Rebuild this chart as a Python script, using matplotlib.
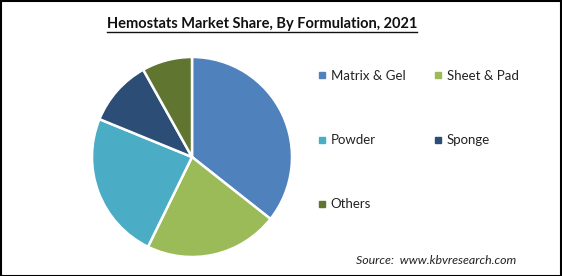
import matplotlib
matplotlib.use("Agg")
import matplotlib.pyplot as plt
from matplotlib.lines import Line2D

categories = ["Matrix & Gel", "Sheet & Pad", "Powder", "Sponge", "Others"]
shares = [35.6, 21.6, 23.9, 10.7, 8.1]
colors = ["#4F81BD", "#9BBB59", "#4BACC6", "#2C4D75", "#5F7530"]
title = "Hemostats Market Share, By Formulation, 2021"
source = "Source:  www.kbvresearch.com"

W, H = 562, 276
fig = plt.figure(figsize=(W / 100, H / 100), dpi=100)
fig.patch.set_facecolor("white")

# border
border = plt.Rectangle((0.5 / W, 0.5 / H), 1 - 1.5 / W, 1 - 1.5 / H, transform=fig.transFigure,
                       fill=False, edgecolor="black", linewidth=1.5)
fig.add_artist(border)

cx, cy, r = 192, 157, 100
ax = fig.add_axes([(cx - r) / W, (H - cy - r) / H, 2 * r / W, 2 * r / H])
wedges, _ = ax.pie(shares, colors=colors, startangle=90, counterclock=False,
                   wedgeprops=dict(edgecolor="white", linewidth=1.8), radius=1)
ax.set_xlim(-1, 1)
ax.set_ylim(-1, 1)
ax.set_aspect("equal")
ax.axis("off")

font = "Lato"
t = fig.text(262 / W, 1 - 24 / H, title, ha="center", va="center", fontsize=10.5,
             fontweight="bold", family=font, color="#111111")
fig.canvas.draw()
bb = t.get_window_extent()
uy = bb.y0 - 1
fig.add_artist(Line2D([bb.x0 / W, bb.x1 / W], [uy / H, uy / H], transform=fig.transFigure,
                      color="#111111", linewidth=1.0))

handles = [Line2D([0], [0], marker="s", linestyle="none", markersize=4.5,
                  markerfacecolor=c, markeredgecolor=c) for c in colors]
# row-major order for a 2-column legend
order = [0, 2, 4, 1, 3]
leg = fig.legend([handles[i] for i in order], [categories[i] for i in order],
                 loc="upper left", bbox_to_anchor=(318 / W, 1 - 70 / H),
                 ncol=2, frameon=False, prop=dict(family=font, size=9.5),
                 handlelength=0.6, handletextpad=0.35, labelspacing=3.95,
                 columnspacing=2.2, borderaxespad=0, borderpad=0)
for txt in leg.get_texts():
    txt.set_color("#222222")

fig.text(516 / W, 1 - 260 / H, source, ha="right", va="center", fontsize=8.9,
         style="italic", family=font, color="#222222")

fig.savefig("out.png", dpi=100, facecolor="white")
